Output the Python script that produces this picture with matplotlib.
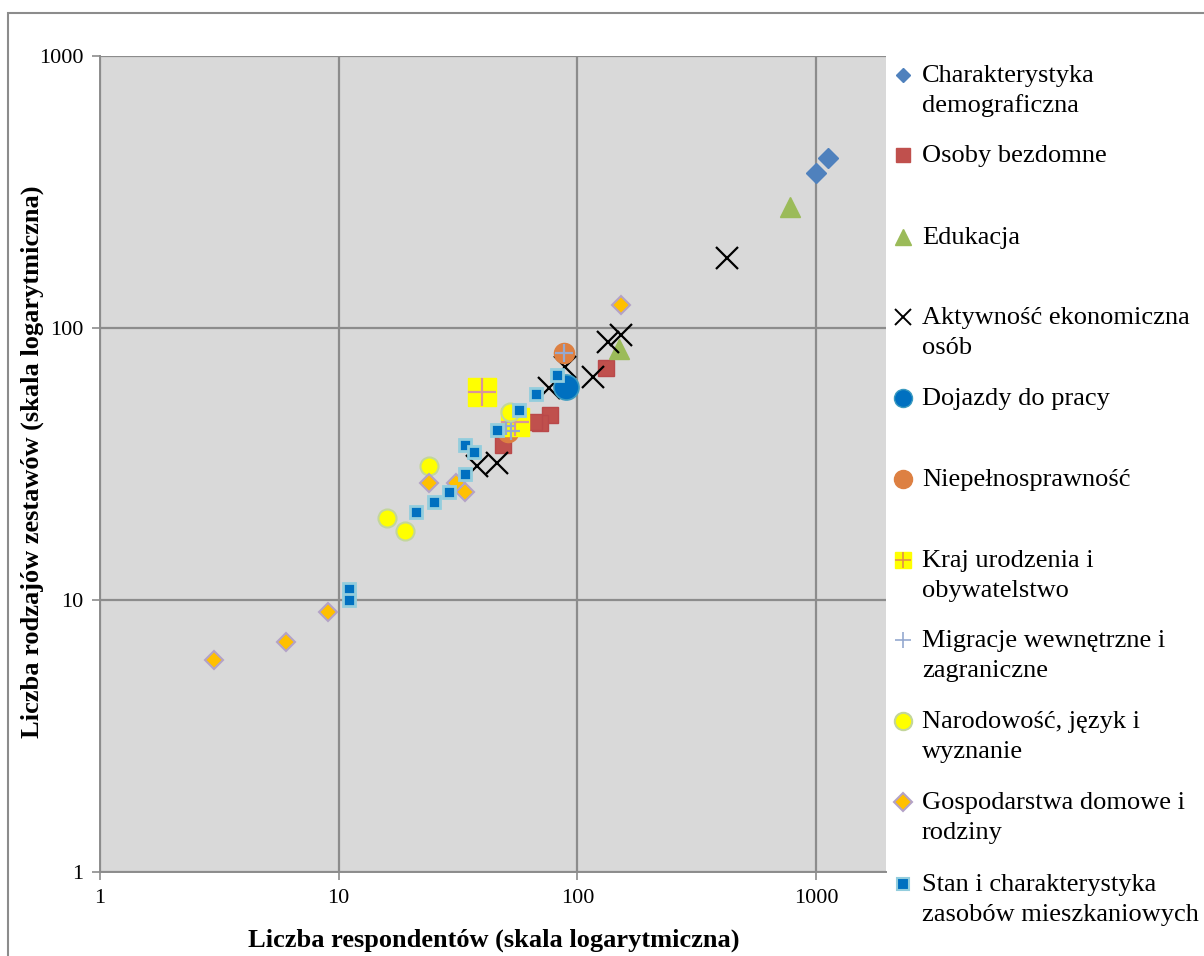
import matplotlib.pyplot as plt
from matplotlib.lines import Line2D
from matplotlib.patches import Rectangle

plt.rcParams['font.family'] = ['Liberation Serif', 'DejaVu Serif']

W, H = 1204, 956

# values: (number of respondents, number of table types)
demografia_x = [1000, 1120]
demografia_y = [370, 420]
bezdomni_x = [132, 77, 70, 66, 49]
bezdomni_y = [71, 48, 44.7, 45, 37]
edukacja_x = [775, 149]
edukacja_y = [278, 84]
aktywnosc_x = [425, 153, 135, 116, 89, 76, 46, 38]
aktywnosc_y = [181, 94, 89, 66, 72, 60, 32, 31]
dojazdy_x = [90]
dojazdy_y = [60.5]
niepelnospr_x = [88, 51]
niepelnospr_y = [81, 41.5]
kraj_x = [40, 55]
kraj_y = [58, 45]
migracje_x = [88, 50.4, 52.9]
migracje_y = [81, 43.6, 41.8]
narodowosc_x = [16, 19, 24, 52]
narodowosc_y = [20, 18, 31, 49]
gospodarstwa_x = [3, 6, 9, 24, 31, 34, 153]
gospodarstwa_y = [6, 7, 9, 27, 27, 25, 121]
mieszkania_x = [11, 11, 21, 25, 29, 34, 34, 37, 46, 57, 67, 82]
mieszkania_y = [11, 10, 21, 23, 25, 29, 37, 35, 42, 50, 57, 67]

labels = [
    ['Charakterystyka', 'demograficzna'],
    ['Osoby bezdomne'],
    ['Edukacja'],
    ['Aktywność ekonomiczna', 'osób'],
    ['Dojazdy do pracy'],
    ['Niepełnosprawność'],
    ['Kraj urodzenia i', 'obywatelstwo'],
    ['Migracje wewnętrzne i', 'zagraniczne'],
    ['Narodowość, język i', 'wyznanie'],
    ['Gospodarstwa domowe i', 'rodziny'],
    ['Stan i charakterystyka', 'zasobów mieszkaniowych'],
]

series = [
    (demografia_x, demografia_y),
    (bezdomni_x, bezdomni_y),
    (edukacja_x, edukacja_y),
    (aktywnosc_x, aktywnosc_y),
    (dojazdy_x, dojazdy_y),
    (niepelnospr_x, niepelnospr_y),
    (kraj_x, kraj_y),
    (migracje_x, migracje_y),
    (narodowosc_x, narodowosc_y),
    (gospodarstwa_x, gospodarstwa_y),
    (mieszkania_x, mieszkania_y),
]

# marker styles; the second dict (if any) is drawn on top of the first
styles = [
    [dict(marker='D', ms=10, mfc='#4F81BD', mec='#4F81BD', mew=1)],
    [dict(marker='s', ms=11, mfc='#C0504D', mec='#B9484A', mew=1)],
    [dict(marker='^', ms=14, mfc='#9BBB59', mec='#9BBB59', mew=1)],
    [dict(marker='x', ms=16, mfc='none', mec='black', mew=1.6)],
    [dict(marker='o', ms=18, mfc='#0070C0', mec='#3A9AC0', mew=1.2)],
    [dict(marker='o', ms=14.5, mfc='#DD8042', mec='#DD8042', mew=1)],
    [dict(marker='s', ms=19.5, mfc='#FFFF00', mec='#FFFF00', mew=1),
     dict(marker='+', ms=19.5, mfc='none', mec='#D9959B', mew=1.6)],
    [dict(marker='+', ms=13, mfc='none', mec='#95A9D0', mew=1.6)],
    [dict(marker='o', ms=13, mfc='#FFFF00', mec='#C3D69B', mew=1.5)],
    [dict(marker='D', ms=9, mfc='#FFC000', mec='#B3A2C7', mew=1.5)],
    [dict(marker='s', ms=8, mfc='#0070C0', mec='#93CDDD', mew=2)],
]

legend_styles = [
    [dict(marker='D', ms=7.5, mfc='#4F81BD', mec='#4F81BD')],
    [dict(marker='s', ms=10, mfc='#C0504D', mec='#C0504D')],
    [dict(marker='^', ms=12, mfc='#9BBB59', mec='#9BBB59')],
    [dict(marker='x', ms=11, mec='black', mew=1.4)],
    [dict(marker='o', ms=13, mfc='#0070C0', mec='#3A9AC0', mew=1)],
    [dict(marker='o', ms=13, mfc='#DD8042', mec='#DD8042')],
    [dict(marker='s', ms=12, mfc='#FFFF00', mec='#FFFF00'),
     dict(marker='+', ms=12, mec='#E0904A', mew=1.2)],
    [dict(marker='+', ms=12, mec='#95A9D0', mew=1.2)],
    [dict(marker='o', ms=12.5, mfc='#FFFF00', mec='#C3D69B', mew=1.5)],
    [dict(marker='D', ms=9, mfc='#FFC000', mec='#B3A2C7', mew=1.5)],
    [dict(marker='s', ms=8, mfc='#0070C0', mec='#93CDDD', mew=1.5)],
]
legend_rows = [75, 155, 237, 317, 398, 479, 560, 640, 721, 802, 884]

fig = plt.figure(figsize=(W / 100, H / 100), dpi=100)
ax = fig.add_axes([100 / W, 1 - 872 / H, 786 / W, 816 / H])
ax.set_facecolor('#D9D9D9')

for (xs, ys), st in zip(series, styles):
    for s in st:
        ax.plot(xs, ys, linestyle='none', **s)

ax.set_xscale('log')
ax.set_yscale('log')
ax.set_xlim(1, 10 ** 3.2935)
ax.set_ylim(1, 1000)
ax.set_xticks([1, 10, 100, 1000], ['1', '10', '100', '1000'])
ax.set_yticks([1, 10, 100, 1000], ['1', '10', '100', '1000'])
ax.minorticks_off()
ax.grid(True, color='#8C8C8C', lw=1.6)
ax.set_axisbelow(True)
ax.tick_params(labelsize=16, color='#8C8C8C', length=6, width=1.2, pad=6)
for side in ['top', 'right']:
    ax.spines[side].set_visible(False)
for side in ['left', 'bottom']:
    ax.spines[side].set_color('#8C8C8C')
    ax.spines[side].set_linewidth(1.4)

fig.text(494 / W, 1 - 940 / H, 'Liczba respondentów (skala logarytmiczna)',
         ha='center', va='center', fontsize=19, fontweight='bold')
fig.text(32 / W, 1 - 462 / H, 'Liczba rodzajów zestawów (skala logarytmiczna)',
         ha='center', va='center', fontsize=19, fontweight='bold', rotation=90)

# manual legend, marker aligned with the first line of each label
for row, lines, st in zip(legend_rows, labels, legend_styles):
    for s in st:
        fig.add_artist(Line2D([903 / W], [1 - row / H], linestyle='none',
                              transform=fig.transFigure, **s))
    for i, line in enumerate(lines):
        fig.text(922 / W, 1 - (row + 7 + 30 * i) / H, line,
                 ha='left', va='baseline', fontsize=19)

fig.add_artist(Rectangle((8 / W, -0.1), 1.2, 1.1 - 13 / H, fill=False,
                         edgecolor='#8C8C8C', lw=1.5, transform=fig.transFigure))

fig.savefig('out.png', dpi=100)
